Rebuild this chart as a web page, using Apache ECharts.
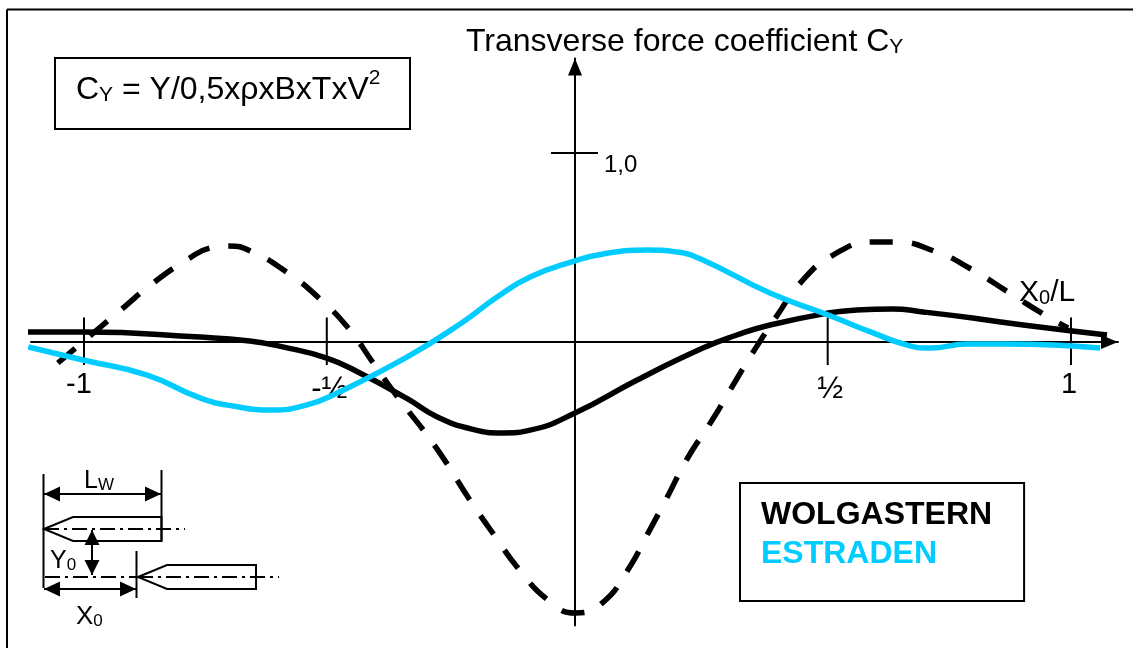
<!DOCTYPE html>
<html><head><meta charset="utf-8">
<style>html,body{margin:0;padding:0;background:#fff}#c{width:1133px;height:648px}</style>
<script src="https://cdn.jsdelivr.net/npm/echarts@6/dist/echarts.min.js"></script></head>
<body><div id="c"></div>
<script>
const wolgastern = [[-1.118,.053],[-1.002,.053],[-.765,.026],[-.664,.005],[-.597,-.026],[-.508,-.085],[-.441,-.164],[-.345,-.300],[-.285,-.395],[-.212,-.462],[-.151,-.481],[-.096,-.466],[-.005,-.376],[.121,-.201],[.254,-.032],[.323,.037],[.390,.090],[.508,.153],[.566,.169],[.639,.175],[.700,.159],[.801,.127],[.903,.090],[1.073,.037]];
const estraden = [[-1.113,-.026],[-1.002,-.095],[-.872,-.175],[-.765,-.296],[-.698,-.339],[-.617,-.360],[-.548,-.333],[-.495,-.280],[-.345,-.079],[-.232,.106],[-.163,.238],[-.096,.344],[-.005,.429],[.052,.466],[.141,.487],[.202,.476],[.254,.434],[.390,.259],[.508,.143],[.599,.048],[.668,-.016],[.714,-.032],[.789,-.011],[.870,-.011],[1.059,-.032]];
const dashedCurve = [[-1.053,-.111],[-.988,.032],[-.923,.175],[-.860,.312],[-.789,.439],[-.745,.497],[-.708,.508],[-.662,.481],[-.587,.365],[-.522,.228],[-.463,.069],[-.414,-.111],[-.366,-.286],[-.289,-.550],[-.218,-.836],[-.169,-1.021],[-.119,-1.201],[-.060,-1.365],[-.005,-1.434],[.050,-1.381],[.102,-1.206],[.143,-1.011],[.183,-.815],[.222,-.619],[.273,-.413],[.313,-.238],[.356,-.053],[.404,.138],[.453,.317],[.518,.460],[.599,.529],[.643,.529],[.728,.476],[.801,.381],[.876,.259],[.947,.143],[.994,.074]];
const xTickValues = [-1, -.508, .507, 1];
const xTickLabels = ['{neg|-1}', '{frac|-½}', '{frac|½}', '{one|1}'];
const yTickValues = [1];
const yTickLabels = ['1,0'];
const seriesNames = ['WOLGASTERN', 'ESTRADEN'];

const FONT = '"Liberation Sans", Arial, sans-serif';
const CYAN = '#00CCFF';

function line(x1,y1,x2,y2,dash,w){return {type:'line',silent:true,shape:{x1,y1,x2,y2},style:{stroke:'#000',lineWidth:w||2,lineDash:dash||null}};}
function poly(points,fill){return {type:'polygon',silent:true,shape:{points},style:{fill:fill?'#000':'none',stroke:fill?null:'#000',lineWidth:2}};}
function hArrow(x1,x2,y){return [line(x1,y,x2,y),poly([[x1,y],[x1+16,y-7.5],[x1+16,y+7.5]],true),poly([[x2,y],[x2-16,y-7.5],[x2-16,y+7.5]],true)];}
function vArrow(x,y1,y2){return [line(x,y1,x,y2),poly([[x,y1],[x-7.5,y1+15],[x+7.5,y1+15]],true),poly([[x,y2],[x-7.5,y2-15],[x+7.5,y2-15]],true)];}
function txt(x,y,text,rich,fs){return {type:'text',silent:true,x,y,style:{text,rich,fontFamily:FONT,fontSize:fs,fill:'#000',verticalAlign:'bottom'}};}
const DD=[15,5,3,5];
function ship(tx,y,sx,ex){return poly([[tx,y],[sx,y-12],[ex,y-12],[ex,y+12],[sx,y+12]]);}

const subRich=(a,b)=>({n:{fontFamily:FONT,fontSize:a,fontWeight:'normal',color:'#000',fill:'#000',lineHeight:a+6,verticalAlign:'bottom'},s:{fontFamily:FONT,fontSize:b,fontWeight:'normal',color:'#000',fill:'#000',lineHeight:a+6,verticalAlign:'bottom'}});

const chart = echarts.init(document.getElementById('c'),null,{renderer:'canvas'});
chart.setOption({
  animation:false,
  backgroundColor:'#fff',
  title:[
    {text:'{n|Transverse force coefficient C}{s|Y}',left:466,top:20,padding:0,textStyle:{fontWeight:'normal',color:'#000',rich:subRich(32,21)}},
    {text:'{n|X}{s|0}{n|/L}',left:1019,top:272,padding:0,textStyle:{fontWeight:'normal',color:'#000',rich:subRich(30,20)}}
  ],
  legend:{
    data:[{name:seriesNames[0],textStyle:{color:'#000'}},{name:seriesNames[1],textStyle:{color:CYAN}}],
    orient:'vertical',left:740,top:483,icon:'none',itemWidth:0,itemHeight:30,itemGap:7,
    padding:[16,32,31,16],borderColor:'#000',borderWidth:2,
    selectedMode:false,align:'left',
    textStyle:{fontFamily:FONT,fontSize:32,fontWeight:'bold'}
  },
  grid:{left:31,top:58.5,width:1087,height:567,containLabel:false,outerBoundsMode:'none'},
  xAxis:{type:'value',min:-1.1074,max:1.0953,position:'bottom',offset:-283.5,
    axisLine:{onZero:false,symbol:['none','triangle'],symbolSize:[14,17],symbolOffset:[0,-8.5],lineStyle:{color:'#000',width:2}},
    axisTick:{show:false},splitLine:{show:false},
    axisLabel:{customValues:xTickValues,margin:28,color:'#000',fontFamily:FONT,
      formatter:(v)=>xTickLabels[xTickValues.indexOf(v)],
      rich:{neg:{fontSize:29,fontFamily:FONT,color:'#000',padding:[0,10,0,0]},
            frac:{fontSize:31,fontFamily:FONT,color:'#000',padding:[4,0,0,5]},
            one:{fontSize:29,fontFamily:FONT,color:'#000',padding:[0,4,0,0]}}}
  },
  yAxis:{type:'value',min:-1.5,max:1.5,position:'left',offset:-544,
    axisLine:{onZero:false,symbol:['none','triangle'],symbolSize:[14,17],symbolOffset:[0,-8.5],lineStyle:{color:'#000',width:2}},
    axisTick:{show:false},splitLine:{show:false},
    axisLabel:{customValues:yTickValues,inside:true,margin:29,color:'#000',fontFamily:FONT,fontSize:24,
      verticalAlign:'top',formatter:(v)=>yTickLabels[yTickValues.indexOf(v)]}
  },
  series:[
    {type:'custom',name:'ticks',silent:true,clip:false,z:1,coordinateSystem:'cartesian2d',
      data:xTickValues.map(v=>[v,.13,v,-.122]).concat(yTickValues.map(v=>[-.0537,v,.0415,v])),
      encode:{x:[0,2],y:[1,3]},
      renderItem:(p,api)=>{const a=api.coord([api.value(0),api.value(1)]),b=api.coord([api.value(2),api.value(3)]);
        return {type:'line',shape:{x1:a[0],y1:a[1],x2:b[0],y2:b[1]},style:{stroke:'#000',lineWidth:2}};}},
    {type:'line',name:'Dashed',data:dashedCurve,smooth:.5,showSymbol:false,clip:false,z:3,
      lineStyle:{color:'#000',width:5.5,type:[23,19],cap:'butt'}},
    {type:'line',name:seriesNames[0],data:wolgastern,smooth:.5,showSymbol:false,clip:false,z:4,
      itemStyle:{color:'#000'},lineStyle:{color:'#000',width:5.5}},
    {type:'line',name:seriesNames[1],data:estraden,smooth:.5,showSymbol:false,clip:false,z:5,
      itemStyle:{color:CYAN},lineStyle:{color:CYAN,width:5.5}}
  ],
  graphic:{elements:[
    line(7,9.5,1133,9.5),line(7,9.5,7,648),
    {type:'rect',silent:true,shape:{x:55,y:58,width:355,height:71},style:{fill:'none',stroke:'#000',lineWidth:2}},
    txt(76,106,'{n|C}{s|Y}{n| = Y/0,5xρxBxTxV}{u|2}',{n:{fontSize:32,fontFamily:FONT,fill:'#000',lineHeight:38,verticalAlign:'bottom'},s:{fontSize:21,fontFamily:FONT,fill:'#000',lineHeight:38,verticalAlign:'bottom'},u:{fontSize:21,fontFamily:FONT,fill:'#000',lineHeight:38,verticalAlign:'top'}},32),
    line(43.5,474,43.5,588),line(161.5,470,161.5,541),line(136.5,551,136.5,598),
    ...hArrow(44,161,494),...hArrow(44,136,589),...vArrow(92,530,575),
    ship(44,529,73,161.5),ship(138,577,167,256),
    line(44,529,185,529,DD,2),line(45,577,136,577,DD,2),line(138,577,279,577,DD,2),
    txt(84,494,'{n|L}{s|W}',subRich(25,17),25),
    txt(50,574,'{n|Y}{s|0}',subRich(25,17),25),
    txt(76,630,'{n|X}{s|0}',subRich(26,17),26)
  ]}
});
</script></body></html>
